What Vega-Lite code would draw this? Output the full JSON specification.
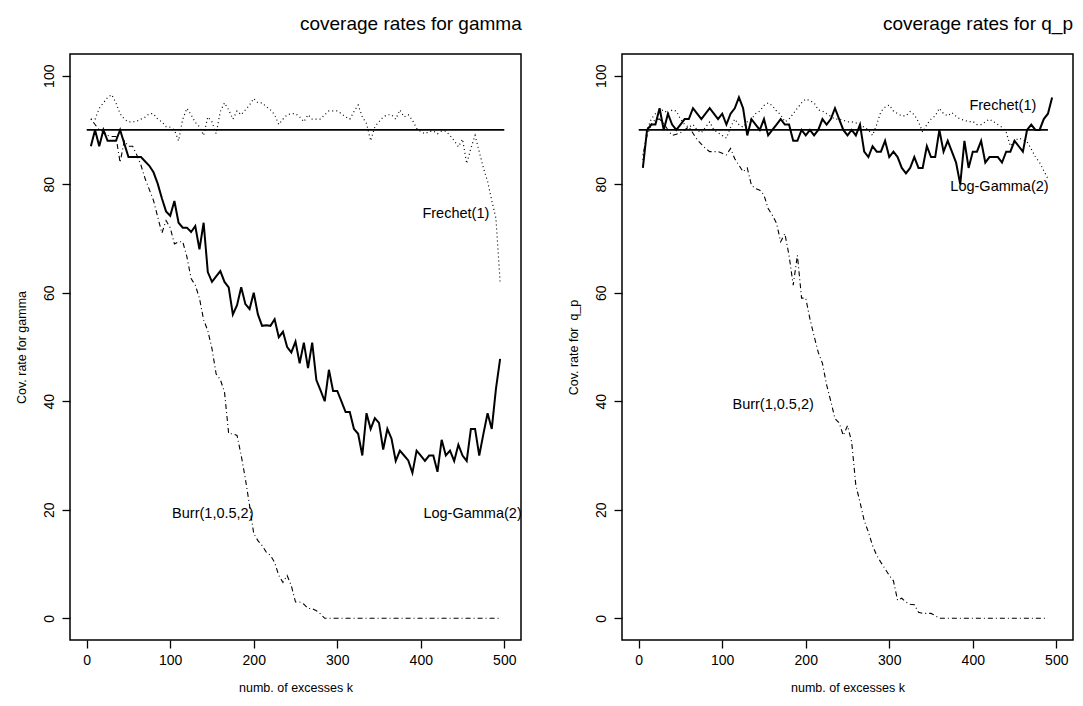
{
  "$schema": "https://vega.github.io/schema/vega-lite/v6.json",
  "padding": {"left": 14, "top": 14, "right": 5, "bottom": 5},
  "config": {
    "font": "Liberation Sans",
    "view": {"stroke": "black", "strokeWidth": 1.5},
    "axis": {
      "domain": false, "grid": false,
      "tickColor": "black", "tickWidth": 1.3, "tickSize": 8,
      "labelColor": "black", "labelFontSize": 14, "labelFont": "Liberation Sans",
      "titleColor": "black", "titleFontSize": 12.5, "titleFontWeight": "normal", "titleFont": "Liberation Sans"
    },
    "title": {"fontSize": 19, "fontWeight": "normal", "anchor": "end", "color": "black", "offset": 20, "font": "Liberation Sans"}
  },
  "datasets": {
    "gamma": [
      {"k":5,"lg":87,"fr":92,"bu":92},{"k":10,"lg":90,"fr":92,"bu":91},{"k":15,"lg":87,"fr":94,"bu":90},
      {"k":20,"lg":90,"fr":95,"bu":89.7},{"k":25,"lg":88,"fr":96,"bu":89},{"k":30,"lg":88,"fr":96.5,"bu":88.8},
      {"k":35,"lg":88,"fr":95,"bu":88.8},{"k":40,"lg":90,"fr":93,"bu":84},{"k":45,"lg":87.5,"fr":92,"bu":88},
      {"k":50,"lg":85,"fr":91.5,"bu":87},{"k":55,"lg":85,"fr":91.5,"bu":87},{"k":60,"lg":85,"fr":91.6,"bu":85.4},
      {"k":65,"lg":85,"fr":92,"bu":83.5},{"k":70,"lg":84.2,"fr":92.4,"bu":81},{"k":75,"lg":83.4,"fr":93,"bu":79},
      {"k":80,"lg":82.2,"fr":93,"bu":77},{"k":85,"lg":80.1,"fr":92,"bu":74},{"k":90,"lg":77.4,"fr":91.5,"bu":71},
      {"k":95,"lg":75,"fr":90.6,"bu":73.3},{"k":100,"lg":74.2,"fr":90.5,"bu":72},{"k":105,"lg":76.9,"fr":90,"bu":69},
      {"k":110,"lg":72.9,"fr":88,"bu":69.4},{"k":115,"lg":72,"fr":92,"bu":69.4},{"k":120,"lg":72,"fr":94,"bu":66.6},
      {"k":125,"lg":71.2,"fr":92.8,"bu":62.6},{"k":130,"lg":72.3,"fr":91.4,"bu":61.4},{"k":135,"lg":68,"fr":90.6,"bu":59},
      {"k":140,"lg":72.9,"fr":89,"bu":55},{"k":145,"lg":63.8,"fr":92.4,"bu":53},{"k":150,"lg":62,"fr":91.5,"bu":49.7},
      {"k":155,"lg":63,"fr":89.3,"bu":45},{"k":160,"lg":64,"fr":93.4,"bu":44},{"k":165,"lg":62,"fr":95,"bu":41.7},
      {"k":170,"lg":61,"fr":93.7,"bu":34},{"k":175,"lg":56,"fr":92,"bu":34},{"k":180,"lg":57.7,"fr":93.5,"bu":33.7},
      {"k":185,"lg":61,"fr":92.8,"bu":30},{"k":190,"lg":57.9,"fr":93.7,"bu":25.7},{"k":195,"lg":57,"fr":94.6,"bu":20.8},
      {"k":200,"lg":60,"fr":95.8,"bu":15.6},{"k":205,"lg":56,"fr":95,"bu":14.3},{"k":210,"lg":53.9,"fr":95,"bu":13.4},
      {"k":215,"lg":54,"fr":94.3,"bu":12.2},{"k":220,"lg":53.9,"fr":93.7,"bu":11.6},{"k":225,"lg":55.1,"fr":92.8,"bu":10.3},
      {"k":230,"lg":51.8,"fr":91,"bu":7.9},{"k":235,"lg":52.8,"fr":92,"bu":6.6},{"k":240,"lg":50,"fr":92.8,"bu":7.9},
      {"k":245,"lg":49,"fr":93,"bu":6},{"k":250,"lg":51,"fr":93,"bu":3},{"k":255,"lg":47,"fr":92.4,"bu":3},
      {"k":260,"lg":50.8,"fr":91.5,"bu":2.6},{"k":265,"lg":46.1,"fr":92.8,"bu":1.8},{"k":270,"lg":50.8,"fr":92,"bu":1.8},
      {"k":275,"lg":43.9,"fr":92,"bu":1.4},{"k":280,"lg":42,"fr":92,"bu":0.8},{"k":285,"lg":40,"fr":92.8,"bu":0},
      {"k":290,"lg":45.8,"fr":93.5,"bu":0},{"k":295,"lg":41.9,"fr":93.5,"bu":0},{"k":300,"lg":41.9,"fr":93.5,"bu":0},
      {"k":305,"lg":40,"fr":93,"bu":0},{"k":310,"lg":38,"fr":92.4,"bu":0},{"k":315,"lg":38,"fr":92,"bu":0},
      {"k":320,"lg":34.9,"fr":93.4,"bu":0},{"k":325,"lg":34,"fr":94.6,"bu":0},{"k":330,"lg":30,"fr":92.4,"bu":0},
      {"k":335,"lg":37.8,"fr":91.2,"bu":0},{"k":340,"lg":34.9,"fr":88,"bu":0},{"k":345,"lg":36.9,"fr":90.6,"bu":0},
      {"k":350,"lg":36,"fr":91.5,"bu":0},{"k":355,"lg":31.1,"fr":92.4,"bu":0},{"k":360,"lg":34.9,"fr":92.8,"bu":0},
      {"k":365,"lg":33.1,"fr":92.8,"bu":0},{"k":370,"lg":29,"fr":92,"bu":0},{"k":375,"lg":30.9,"fr":93.7,"bu":0},
      {"k":380,"lg":30,"fr":92.4,"bu":0},{"k":385,"lg":29.1,"fr":92.8,"bu":0},{"k":390,"lg":26.8,"fr":91.8,"bu":0},
      {"k":395,"lg":30.9,"fr":90.3,"bu":0},{"k":400,"lg":30,"fr":89.7,"bu":0},{"k":405,"lg":29,"fr":89.3,"bu":0},
      {"k":410,"lg":30,"fr":89.7,"bu":0},{"k":415,"lg":30,"fr":89.8,"bu":0},{"k":420,"lg":27,"fr":89.3,"bu":0},
      {"k":425,"lg":32.9,"fr":89.8,"bu":0},{"k":430,"lg":30,"fr":89.8,"bu":0},{"k":435,"lg":30.9,"fr":89,"bu":0},
      {"k":440,"lg":29,"fr":88,"bu":0},{"k":445,"lg":32,"fr":86.9,"bu":0},{"k":450,"lg":30,"fr":88.3,"bu":0},
      {"k":455,"lg":29,"fr":83.8,"bu":0},{"k":460,"lg":34.9,"fr":86.6,"bu":0},{"k":465,"lg":34.9,"fr":89,"bu":0},
      {"k":470,"lg":30,"fr":86,"bu":0},{"k":475,"lg":34,"fr":83,"bu":0},{"k":480,"lg":37.8,"fr":80.5,"bu":0},
      {"k":485,"lg":34.9,"fr":77,"bu":0},{"k":490,"lg":42.3,"fr":73.7,"bu":0},{"k":495,"lg":47.8,"fr":62,"bu":0}
    ],
    "qp": [
      {"k":5,"lg":83,"fr":84.5,"bu":85.4},{"k":10,"lg":90,"fr":90,"bu":89},{"k":15,"lg":91,"fr":92,"bu":91},
      {"k":20,"lg":91,"fr":93,"bu":92},{"k":25,"lg":94,"fr":93.5,"bu":92},{"k":30,"lg":90,"fr":93.7,"bu":91.2},
      {"k":35,"lg":93,"fr":93,"bu":90},{"k":40,"lg":91,"fr":93.7,"bu":89},{"k":45,"lg":90,"fr":93.5,"bu":89.2},
      {"k":50,"lg":91,"fr":92,"bu":89.5},{"k":55,"lg":92,"fr":91,"bu":90},{"k":60,"lg":92,"fr":90.5,"bu":90.6},
      {"k":65,"lg":94,"fr":91,"bu":89.4},{"k":70,"lg":93,"fr":90,"bu":88.2},{"k":75,"lg":92,"fr":89.5,"bu":87.4},
      {"k":80,"lg":93,"fr":90.5,"bu":86.6},{"k":85,"lg":94,"fr":91.5,"bu":86},{"k":90,"lg":93,"fr":90,"bu":86},
      {"k":95,"lg":92,"fr":89.5,"bu":86},{"k":100,"lg":93,"fr":89,"bu":85.7},{"k":105,"lg":91,"fr":88.5,"bu":85.4},
      {"k":110,"lg":93,"fr":90.5,"bu":86.6},{"k":115,"lg":94,"fr":92,"bu":84.7},{"k":120,"lg":96,"fr":91,"bu":83.5},
      {"k":125,"lg":94,"fr":90.5,"bu":82.3},{"k":130,"lg":89,"fr":91.5,"bu":83},{"k":135,"lg":92,"fr":92,"bu":79.8},
      {"k":140,"lg":91,"fr":93,"bu":79.2},{"k":145,"lg":90,"fr":93.5,"bu":78.9},{"k":150,"lg":92,"fr":94.5,"bu":78},
      {"k":155,"lg":89,"fr":95,"bu":75.5},{"k":160,"lg":90,"fr":94.5,"bu":74.3},{"k":165,"lg":91,"fr":93.5,"bu":72.8},
      {"k":170,"lg":92,"fr":92.8,"bu":69.4},{"k":175,"lg":91,"fr":91.5,"bu":70.9},{"k":180,"lg":91,"fr":92,"bu":66.9},
      {"k":185,"lg":88,"fr":93,"bu":61.4},{"k":190,"lg":88,"fr":94,"bu":66.9},{"k":195,"lg":90,"fr":95,"bu":59},
      {"k":200,"lg":89,"fr":95.7,"bu":59},{"k":205,"lg":90,"fr":95.4,"bu":55.2},{"k":210,"lg":89,"fr":95,"bu":52},
      {"k":215,"lg":90,"fr":93.7,"bu":49},{"k":220,"lg":92,"fr":93.5,"bu":47},{"k":225,"lg":91,"fr":93,"bu":43},
      {"k":230,"lg":92,"fr":92.5,"bu":40},{"k":235,"lg":94,"fr":92,"bu":36.8},{"k":240,"lg":92,"fr":92,"bu":36},
      {"k":245,"lg":90,"fr":91.8,"bu":33.7},{"k":250,"lg":89,"fr":91.5,"bu":35.5},{"k":255,"lg":90,"fr":91.5,"bu":32.5},
      {"k":260,"lg":89,"fr":91.3,"bu":24.5},{"k":265,"lg":91,"fr":91,"bu":21.4},{"k":270,"lg":86,"fr":90.5,"bu":18},
      {"k":275,"lg":85,"fr":90,"bu":15.9},{"k":280,"lg":87,"fr":89,"bu":13.4},{"k":285,"lg":86,"fr":91,"bu":11.6},
      {"k":290,"lg":86,"fr":93.4,"bu":10.3},{"k":295,"lg":88,"fr":94.2,"bu":9.1},{"k":300,"lg":85,"fr":94.6,"bu":7.9},
      {"k":305,"lg":86,"fr":93.5,"bu":6.9},{"k":310,"lg":85,"fr":93,"bu":3.3},{"k":315,"lg":83,"fr":92.6,"bu":3.7},
      {"k":320,"lg":82,"fr":92.6,"bu":3},{"k":325,"lg":83,"fr":93.4,"bu":2.6},{"k":330,"lg":85,"fr":92.8,"bu":2.5},
      {"k":335,"lg":83,"fr":91.5,"bu":1.1},{"k":340,"lg":83,"fr":89.6,"bu":0.9},{"k":345,"lg":87,"fr":91,"bu":0.9},
      {"k":350,"lg":85,"fr":92,"bu":0.9},{"k":355,"lg":85,"fr":92.6,"bu":0.5},{"k":360,"lg":90,"fr":94,"bu":0},
      {"k":365,"lg":86,"fr":93,"bu":0},{"k":370,"lg":88,"fr":92.6,"bu":0},{"k":375,"lg":86,"fr":93.2,"bu":0},
      {"k":380,"lg":84,"fr":92.5,"bu":0},{"k":385,"lg":80,"fr":92,"bu":0},{"k":390,"lg":88,"fr":91.8,"bu":0},
      {"k":395,"lg":83,"fr":91.5,"bu":0},{"k":400,"lg":86,"fr":91.6,"bu":0},{"k":405,"lg":86,"fr":91,"bu":0},
      {"k":410,"lg":88,"fr":91,"bu":0},{"k":415,"lg":84,"fr":91.5,"bu":0},{"k":420,"lg":85,"fr":92,"bu":0},
      {"k":425,"lg":85,"fr":91.5,"bu":0},{"k":430,"lg":85,"fr":91,"bu":0},{"k":435,"lg":84,"fr":90.5,"bu":0},
      {"k":440,"lg":86,"fr":89.6,"bu":0},{"k":445,"lg":86,"fr":87,"bu":0},{"k":450,"lg":88,"fr":88,"bu":0},
      {"k":455,"lg":87,"fr":88.5,"bu":0},{"k":460,"lg":86,"fr":88.2,"bu":0},{"k":465,"lg":90,"fr":87.8,"bu":0},
      {"k":470,"lg":91,"fr":86.5,"bu":0},{"k":475,"lg":90,"fr":85,"bu":0},{"k":480,"lg":90,"fr":84,"bu":0},
      {"k":485,"lg":92,"fr":82.5,"bu":0},{"k":490,"lg":93,"fr":81,"bu":0},{"k":495,"lg":96}
    ]
  },
  "spacing": 43,
  "hconcat": [
    {
      "width": 451, "height": 586,
      "title": "coverage rates for gamma",
      "encoding": {
        "x": {"field": "k", "type": "quantitative",
          "scale": {"domain": [-20, 520], "nice": false, "zero": false},
          "axis": {"values": [0, 100, 200, 300, 400, 500], "title": "numb. of excesses k", "labelPadding": 5, "titlePadding": 14, "labelFlush": false}},
        "y": {"field": "v", "type": "quantitative",
          "scale": {"domain": [-4, 104], "nice": false, "zero": false},
          "axis": {"values": [0, 20, 40, 60, 80, 100], "title": "Cov. rate for gamma", "labelAngle": 270, "labelAlign": "center", "labelBaseline": "bottom", "labelPadding": 6, "titlePadding": 14, "labelFlush": false}}
      },
      "layer": [
        {"data": {"values": [{"k": 0, "k2": 500, "v": 90}]},
          "mark": {"type": "rule", "color": "black", "strokeWidth": 1.8},
          "encoding": {"x2": {"field": "k2"}}},
        {"data": {"name": "gamma"},
          "transform": [{"fold": ["lg"], "as": ["series", "v"]}],
          "mark": {"type": "line", "color": "black", "strokeWidth": 2}},
        {"data": {"name": "gamma"},
          "transform": [{"fold": ["fr"], "as": ["series", "v"]}],
          "mark": {"type": "line", "color": "black", "strokeWidth": 1.2, "strokeDash": [1, 3]}},
        {"data": {"name": "gamma"},
          "transform": [{"fold": ["bu"], "as": ["series", "v"]}],
          "mark": {"type": "line", "color": "black", "strokeWidth": 1.1, "strokeDash": [1, 3, 5, 3]}},
        {"data": {"values": [
            {"k": 442, "v": 74.5, "label": "Frechet(1)"},
            {"k": 462, "v": 19.3, "label": "Log-Gamma(2)"},
            {"k": 151, "v": 19.3, "label": "Burr(1,0.5,2)"}
          ]},
          "mark": {"type": "text", "fontSize": 14.5, "color": "black", "align": "center", "baseline": "middle"},
          "encoding": {"text": {"field": "label"}}}
      ]
    },
    {
      "width": 451, "height": 586,
      "title": "coverage rates for q_p",
      "encoding": {
        "x": {"field": "k", "type": "quantitative",
          "scale": {"domain": [-20, 520], "nice": false, "zero": false},
          "axis": {"values": [0, 100, 200, 300, 400, 500], "title": "numb. of excesses k", "labelPadding": 5, "titlePadding": 14, "labelFlush": false}},
        "y": {"field": "v", "type": "quantitative",
          "scale": {"domain": [-4, 104], "nice": false, "zero": false},
          "axis": {"values": [0, 20, 40, 60, 80, 100], "title": "Cov. rate for\u00a0 q_p", "labelAngle": 270, "labelAlign": "center", "labelBaseline": "bottom", "labelPadding": 6, "titlePadding": 14, "labelFlush": false}}
      },
      "layer": [
        {"data": {"values": [{"k": 0, "k2": 490, "v": 90}]},
          "mark": {"type": "rule", "color": "black", "strokeWidth": 1.8},
          "encoding": {"x2": {"field": "k2"}}},
        {"data": {"name": "qp"},
          "transform": [{"fold": ["lg"], "as": ["series", "v"]}],
          "mark": {"type": "line", "color": "black", "strokeWidth": 2}},
        {"data": {"name": "qp"},
          "transform": [{"fold": ["fr"], "as": ["series", "v"]}, {"filter": "isValid(datum.v)"}],
          "mark": {"type": "line", "color": "black", "strokeWidth": 1.2, "strokeDash": [1, 3]}},
        {"data": {"name": "qp"},
          "transform": [{"fold": ["bu"], "as": ["series", "v"]}, {"filter": "isValid(datum.v)"}],
          "mark": {"type": "line", "color": "black", "strokeWidth": 1.1, "strokeDash": [1, 3, 5, 3]}},
        {"data": {"values": [
            {"k": 436, "v": 94.5, "label": "Frechet(1)"},
            {"k": 432, "v": 79.5, "label": "Log-Gamma(2)"},
            {"k": 161, "v": 39.4, "label": "Burr(1,0.5,2)"}
          ]},
          "mark": {"type": "text", "fontSize": 14.5, "color": "black", "align": "center", "baseline": "middle"},
          "encoding": {"text": {"field": "label"}}}
      ]
    }
  ]
}
